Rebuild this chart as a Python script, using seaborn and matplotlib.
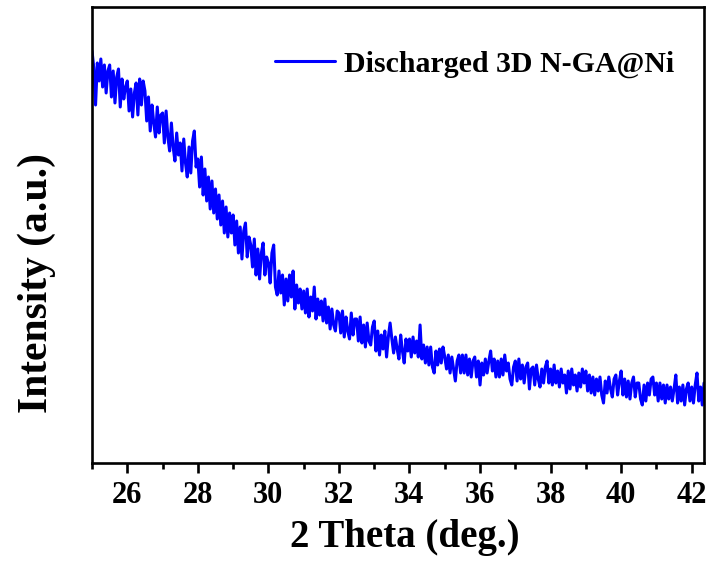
import numpy as np
import pandas as pd
import matplotlib
matplotlib.use("Agg")
import matplotlib.pyplot as plt
from matplotlib.ticker import MultipleLocator
import seaborn as sns

# 2-theta sampling positions (deg), step 0.05
two_theta = np.round(np.arange(25.0, 42.351, 0.05), 2)

# Intensity (a.u.)
intensity = [
    412, 395, 358, 400, 382, 404, 376, 398, 370, 392,
    398, 366, 392, 360, 386, 394, 356, 384, 364, 376,
    382, 352, 374, 346, 370, 380, 348, 384, 358, 382,
    372, 342, 366, 332, 358, 340, 326, 356, 330, 348,
    350, 320, 352, 326, 312, 340, 316, 302, 330, 308,
    320, 292, 324, 300, 286, 316, 290, 322, 332, 296,
    304, 276, 306, 268, 294, 262, 286, 254, 282, 250,
    274, 244, 268, 238, 262, 230, 256, 226, 250, 230,
    248, 218, 242, 210, 236, 204, 232, 240, 206, 226,
    218, 196, 224, 188, 214, 184, 210, 220, 188, 206,
    200, 180, 210, 218, 176, 168, 192, 170, 188, 158,
    184, 162, 188, 166, 192, 154, 178, 160, 174, 154,
    172, 150, 174, 146, 166, 152, 176, 144, 164, 148,
    162, 142, 164, 140, 156, 134, 154, 138, 132, 152,
    150, 130, 152, 126, 146, 132, 124, 150, 128, 144,
    144, 122, 146, 120, 138, 116, 140, 122, 118, 136,
    142, 112, 132, 108, 128, 114, 132, 106, 126, 140,
    124, 110, 126, 114, 104, 128, 112, 100, 124, 112,
    124, 106, 126, 110, 122, 106, 138, 104, 118, 100,
    116, 98, 116, 96, 90, 112, 98, 114, 100, 116,
    106, 94, 108, 90, 106, 94, 82, 102, 108, 90,
    108, 90, 108, 88, 104, 86, 102, 106, 86, 102,
    78, 100, 88, 104, 90, 102, 112, 92, 104, 86,
    102, 86, 104, 88, 108, 92, 100, 84, 78, 96,
    102, 82, 104, 84, 98, 80, 96, 100, 74, 94,
    96, 78, 98, 84, 76, 94, 80, 96, 102, 80,
    94, 78, 98, 80, 92, 76, 94, 80, 88, 70,
    92, 74, 94, 78, 88, 72, 90, 76, 94, 80,
    92, 72, 88, 70, 86, 68, 84, 72, 86, 68,
    60, 82, 70, 86, 74, 66, 84, 88, 68, 82,
    92, 68, 84, 66, 82, 64, 80, 86, 66, 80,
    80, 64, 58, 78, 62, 80, 68, 84, 86, 68,
    80, 62, 80, 64, 78, 60, 78, 64, 76, 62,
    74, 88, 60, 76, 62, 78, 58, 74, 80, 62,
    76, 60, 78, 90, 62, 76, 58, 80,
]

series_label = "Discharged 3D N-GA@Ni"
x_label = "2 Theta (deg.)"
y_label = "Intensity (a.u.)"
x_ticks = [26, 28, 30, 32, 34, 36, 38, 40, 42]

df = pd.DataFrame({"two_theta": two_theta, "intensity": intensity})

sns.set_style("ticks")
plt.rcParams["font.family"] = ["Liberation Serif", "DejaVu Serif"]
plt.rcParams["font.weight"] = "bold"
plt.rcParams["text.color"] = "black"
plt.rcParams["axes.labelcolor"] = "black"
plt.rcParams["xtick.color"] = "black"
plt.rcParams["ytick.color"] = "black"

fig = plt.figure(figsize=(7.09, 5.63), dpi=100)
ax = fig.add_axes([0.1298, 0.1776, 0.993 - 0.1298, 0.9876 - 0.1776])

sns.lineplot(data=df, x="two_theta", y="intensity", color="#0000FF",
             linewidth=2.2, label=series_label, ax=ax)

ax.set_xlim(25.0, 42.35)
ax.set_ylim(0, 456)
ax.set_xticks(x_ticks)
ax.xaxis.set_minor_locator(MultipleLocator(1))
ax.set_yticks([])

for s in ax.spines.values():
    s.set_linewidth(1.9)
    s.set_color("black")
    s.set_visible(True)

ax.tick_params(axis="x", which="major", direction="out", length=7, width=1.9,
               pad=6, labelsize=22, colors="black")
ax.tick_params(axis="x", which="minor", direction="out", length=4.5, width=1.9,
               colors="black")
for lab in ax.get_xticklabels():
    lab.set_fontweight("bold")

ax.set_xlabel(x_label, fontsize=28, fontweight="bold", color="black")
ax.xaxis.set_label_coords(0.511, -0.123)
ax.set_ylabel(y_label, fontsize=30, fontweight="bold", color="black")
ax.yaxis.set_label_coords(-0.059, 0.395)

leg = ax.legend(loc="upper right", bbox_to_anchor=(0.951, 0.905), frameon=False,
                borderaxespad=0, borderpad=0, handlelength=2.0, handletextpad=0.3,
                prop={"family": "Liberation Serif", "weight": "bold", "size": 21.5})
for line in leg.get_lines():
    line.set_linewidth(2.2)
for t in leg.get_texts():
    t.set_color("black")

fig.savefig("out.png", dpi=100)
